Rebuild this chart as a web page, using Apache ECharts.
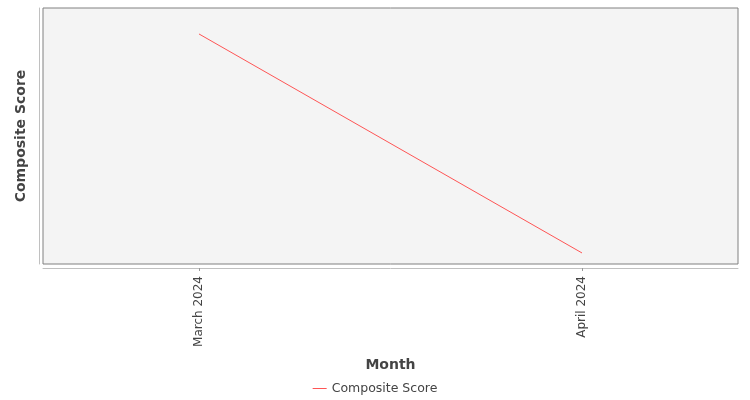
<!DOCTYPE html>
<html>
<head>
<meta charset="utf-8">
<script src="https://cdn.jsdelivr.net/npm/echarts@6/dist/echarts.min.js"></script>
<style>html,body{margin:0;padding:0;background:#fff}#c{width:750px;height:400px}</style>
</head>
<body>
<div id="c"></div>
<script>
var categories = ["March 2024", "April 2024"];
var compositeScore = [0.72, 0.45];
var seriesName = "Composite Score";

var chart = echarts.init(document.getElementById('c'));
var font = "DejaVu Sans";
chart.setOption({
  animation: false,
  textStyle: {fontFamily: font},
  grid: {left: 43, right: 12, top: 8, bottom: 136, show: true, backgroundColor: '#f4f4f4', borderColor: '#808080', borderWidth: 1},
  xAxis: {
    type: 'value',
    min: -0.4073, max: 1.4073,
    offset: 4,
    name: 'Month', nameLocation: 'middle', nameGap: 90,
    nameTextStyle: {fontFamily: font, fontSize: 14, fontWeight: 'bold', color: '#444'},
    splitLine: {show: false},
    axisLine: {show: true, onZero: false, lineStyle: {color: '#c0c0c0'}},
    axisTick: {show: true, customValues: [0, 1], length: 3, lineStyle: {color: '#999'}},
    axisLabel: {customValues: [0, 1], rotate: 90, margin: 8, fontSize: 12, color: '#444', fontFamily: font,
      formatter: function (v) { return categories[Math.round(v)] || ''; }}
  },
  yAxis: {
    type: 'value',
    min: 0.4364, max: 0.7520,
    offset: 4,
    name: 'Composite Score', nameLocation: 'middle', nameGap: 11,
    nameTextStyle: {fontFamily: font, fontSize: 14, fontWeight: 'bold', color: '#444'},
    splitLine: {show: false},
    axisLine: {show: true, onZero: false, lineStyle: {color: '#c0c0c0'}},
    axisTick: {show: false},
    axisLabel: {show: false}
  },
  legend: {
    bottom: 0, left: 'center',
    icon: 'rect', itemWidth: 14, itemHeight: 1, itemGap: 4,
    textStyle: {fontFamily: font, fontSize: 12.5, color: '#444'},
    data: [seriesName]
  },
  series: [{
    name: seriesName, type: 'line', symbol: 'none',
    lineStyle: {color: '#ff5555', width: 1}, itemStyle: {color: '#ff5555'},
    data: compositeScore.map(function (v, i) { return [i, v]; })
  }]
});
</script>
</body>
</html>
